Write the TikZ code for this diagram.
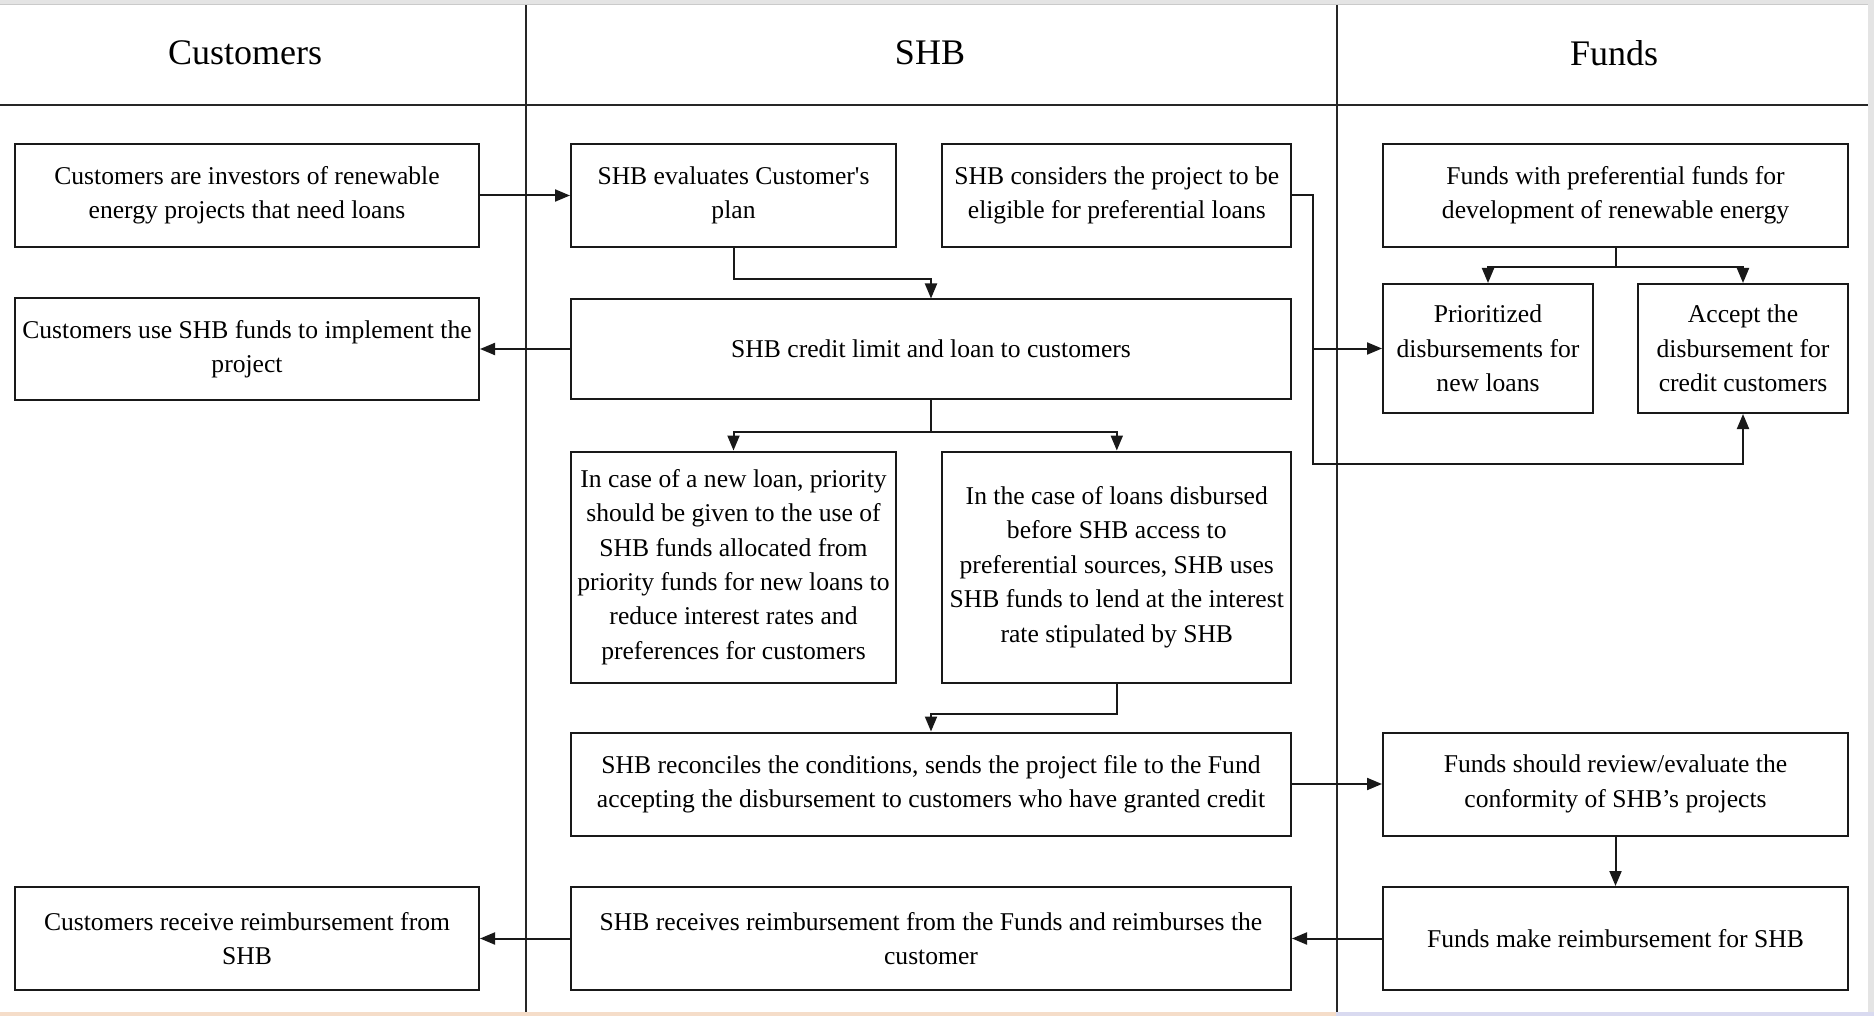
\documentclass[tikz,border=0pt]{standalone}
\usepackage{fontspec}
\setmainfont{Liberation Serif}
\usetikzlibrary{arrows.meta}
\definecolor{peach}{HTML}{F5DDC9}
\definecolor{lav}{HTML}{D9DAF0}
\definecolor{stripgray}{HTML}{E4E4E4}
\definecolor{stripdark}{HTML}{CACACA}
\begin{document}
\begin{tikzpicture}[x=1pt,y=-1pt,
  box/.style={draw=black!90, line width=2pt, inner sep=0pt, align=center,
    font=\fontsize{25.6}{34.4}\selectfont},
  hdr/.style={font=\fontsize{36}{40}\selectfont, inner sep=0pt},
  lane/.style={line width=2.6pt, draw=black!85},
  arr/.style={line width=2pt, draw=black!90, -{Triangle[length=15pt,width=12pt]}},
  wire/.style={line width=2pt}]
\useasboundingbox (0,0) rectangle (1874,1016);
% screenshot strips
\fill[stripgray] (0,0) rectangle (1874,4);
\fill[stripdark] (0,4) rectangle (1874,5.5);
\fill[stripgray] (1868,0) rectangle (1874,1016);
\fill[peach] (0,1012) rectangle (1336,1016);
\fill[lav] (1336,1012) rectangle (1874,1016);
% lanes
\draw[lane] (0,105) -- (1868,105);
\draw[lane] (526,5.5) -- (526,1012);
\draw[lane] (1337,5.5) -- (1337,1012);
\node[hdr] (hC) at (245,53) {Customers};
\node[hdr] (hS) at (930,53) {SHB};
\node[hdr] (hF) at (1614,53) {Funds};
% Customers lane
\node[box, minimum width=464pt, minimum height=103pt] (C1) at (247,195.5)
  {Customers are investors of renewable\\energy projects that need loans};
\node[box, minimum width=464pt, minimum height=102pt] (C2) at (247,349)
  {Customers use SHB funds to implement the\\project};
\node[box, minimum width=464pt, minimum height=103pt] (C3) at (247,938.5)
  {Customers receive reimbursement from\\SHB};
% SHB lane
\node[box, minimum width=325pt, minimum height=103pt] (S1) at (733.5,195.5)
  {SHB evaluates Customer\textquotesingle s\\plan};
\node[box, minimum width=349pt, minimum height=103pt] (S2) at (1116.8,195.5)
  {SHB considers the project to be\\eligible for preferential loans};
\node[box, minimum width=720pt, minimum height=99pt] (S3) at (931,349)
  {SHB credit limit and loan to customers};
\node[box, minimum width=325pt, minimum height=231pt] (S4) at (733.5,567)
  {In case of a new loan, priority\\should be given to the use of\\SHB funds allocated from\\priority funds for new loans to\\reduce interest rates and\\preferences for customers};
\node[box, minimum width=349pt, minimum height=231pt] (S5) at (1116.8,567)
  {In the case of loans disbursed\\before SHB access to\\preferential sources, SHB uses\\SHB funds to lend at the interest\\rate stipulated by SHB};
\node[box, minimum width=720pt, minimum height=103pt] (S6) at (931,784)
  {SHB reconciles the conditions, sends the project file to the Fund\\accepting the disbursement to customers who have granted credit};
\node[box, minimum width=720pt, minimum height=103pt] (S7) at (931,938.5)
  {SHB receives reimbursement from the Funds and reimburses the\\customer};
% Funds lane
\node[box, minimum width=465pt, minimum height=103pt] (F1) at (1615.5,195.5)
  {Funds with preferential funds for\\development of renewable energy};
\node[box, minimum width=210pt, minimum height=129pt] (F2) at (1488,348.5)
  {Prioritized\\disbursements for\\new loans};
\node[box, minimum width=210pt, minimum height=129pt] (F3) at (1743,348.5)
  {Accept the\\disbursement for\\credit customers};
\node[box, minimum width=465pt, minimum height=103pt] (F4) at (1615.5,784)
  {Funds should review/evaluate the\\conformity of SHB’s projects};
\node[box, minimum width=465pt, minimum height=103pt] (F5) at (1615.5,938.5)
  {Funds make reimbursement for SHB};
% connectors
\draw[arr] (C1.east) -- (S1.west);
\draw[arr] (S3.west) -- (C2.east);
\draw[arr] (S1.south) -- ++(0,31) -| (S3.north);
\draw[arr] (S3.south) -- ++(0,32) -| (S4.north);
\draw[arr] (S3.south) -- ++(0,32) -| (S5.north);
\draw[arr] (S5.south) -- ++(0,30.5) -| (S6.north);
\draw[arr] (S6.east) -- (F4.west);
\draw[arr] (F4.south) -- (F5.north);
\draw[arr] (F5.west) -- (S7.east);
\draw[arr] (S7.west) -- (C3.east);
\draw[arr] (F1.south) -- ++(0,19.5) -| (F2.north);
\draw[arr] (F1.south) -- ++(0,19.5) -| (F3.north);
\draw[arr] (S2.east) -- ++(21,0) |- (F2.west);
\draw[arr] (S2.east) -- ++(21,0) -- ++(0,268.5) -| (F3.south);
\end{tikzpicture}
\end{document}
